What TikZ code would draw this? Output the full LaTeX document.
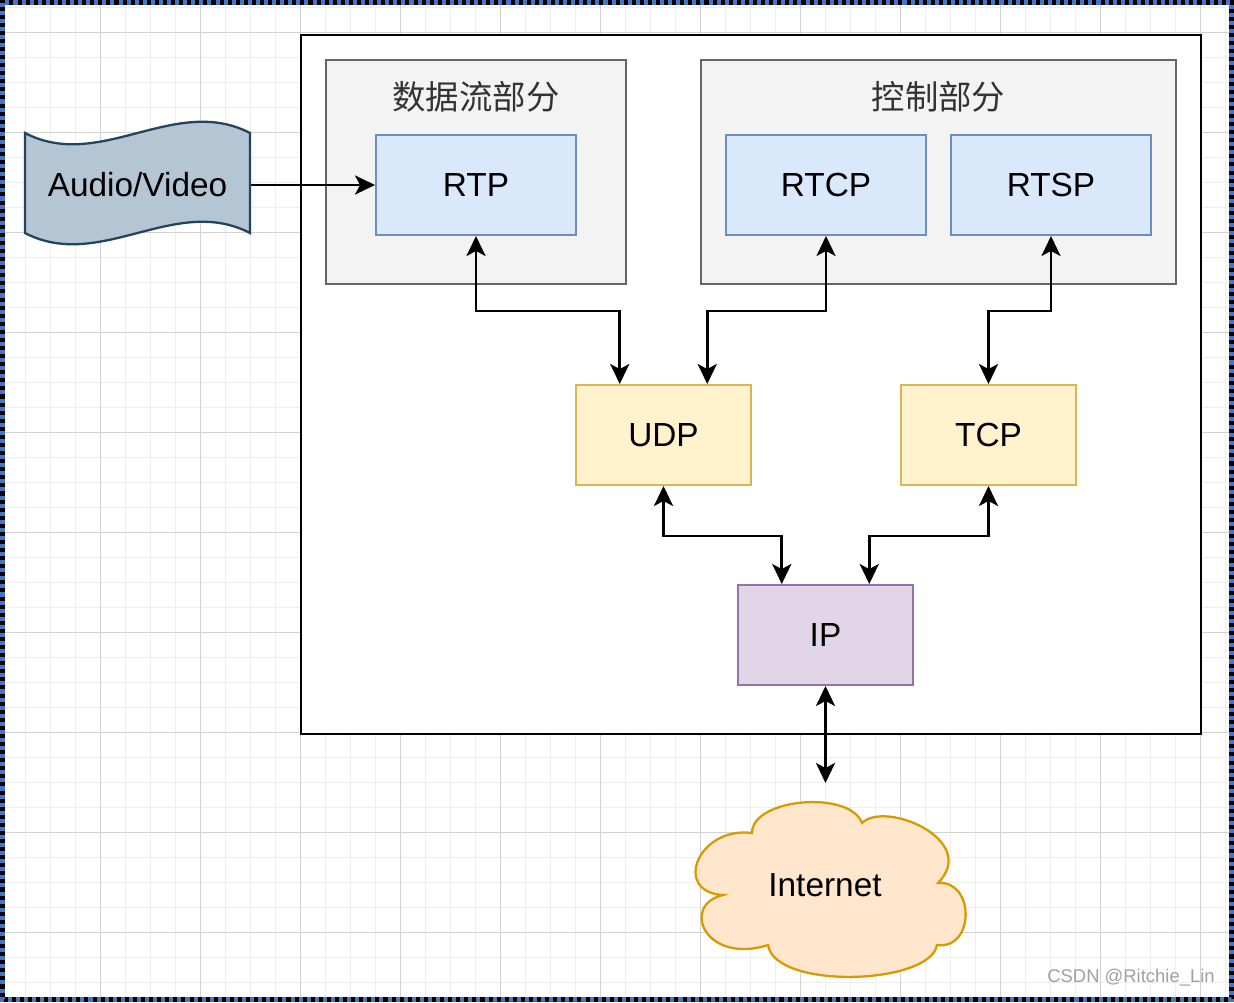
\documentclass[tikz,border=0pt]{standalone}
\usepackage{fontspec}
\setmainfont{Liberation Sans}
\newfontfamily\cjk{Noto Sans CJK SC}
\usetikzlibrary{%
  arrows.meta,%
  calc%
}
\definecolor{gridmin}{HTML}{EEEEEE}
\definecolor{gridmaj}{HTML}{D2D2D2}
\definecolor{frameblue}{HTML}{4A72C8}
\definecolor{grpfill}{HTML}{F3F3F3}
\definecolor{grpline}{HTML}{666666}
\definecolor{blufill}{HTML}{DAE8FC}
\definecolor{bluline}{HTML}{6C8EBF}
\definecolor{ylwfill}{HTML}{FFF2CC}
\definecolor{ylwline}{HTML}{D6B656}
\definecolor{prpfill}{HTML}{E1D5E7}
\definecolor{prpline}{HTML}{9673A6}
\definecolor{tapefill}{HTML}{B4C5D3}
\definecolor{tapeline}{HTML}{23445D}
\definecolor{cloudfill}{HTML}{FFE6CC}
\definecolor{cloudline}{HTML}{D79B00}
\definecolor{titlegray}{HTML}{333333}
\definecolor{markgray}{HTML}{A0A0A0}

\begin{document}
\begin{tikzpicture}
[x=0.02cm, y=-0.02cm, font=\fontsize{19}{22}\selectfont, line width=1.1pt,
grp/.style={rectangle, draw=grpline, fill=grpfill, inner sep=0pt, minimum height=4.48cm},
blu/.style={rectangle, draw=bluline, fill=blufill, inner sep=0pt, minimum width=4cm, minimum height=2cm},
ylw/.style={rectangle, draw=ylwline, fill=ylwfill, inner sep=0pt, minimum width=3.5cm, minimum height=2cm},
prp/.style={rectangle, draw=prpline, fill=prpfill, inner sep=0pt, minimum width=3.5cm, minimum height=2cm},
title/.style={font=\cjk\fontsize{19}{22}\selectfont, text=titlegray},
link/.style={{Stealth[length=0.40cm, width=0.38cm, inset=0.1cm]}-{Stealth[length=0.40cm, width=0.38cm, inset=0.1cm]}, line width=1.6pt},
flow/.style={-{Stealth[length=0.40cm, width=0.38cm, inset=0.1cm]}, line width=1.6pt}
]
\useasboundingbox (0,0) rectangle (1234,1002);

% background grid
\fill[white] (0,0) rectangle (1234,1002);
\foreach \gx in {0,25,...,1225} \draw[gridmin, line width=0.55pt] (\gx,0) -- (\gx,1002);
\foreach \gy in {7,32,...,1000} \draw[gridmin, line width=0.55pt] (0,\gy) -- (1234,\gy);
\foreach \gx in {0,100,...,1200} \draw[gridmaj, line width=0.55pt] (\gx,0) -- (\gx,1002);
\foreach \gy in {32,132,...,1000} \draw[gridmaj, line width=0.55pt] (0,\gy) -- (1234,\gy);

% frame
\draw[black, line width=2.9pt] (2.5,2.5) rectangle (1231.5,999.5);
\draw[frameblue, line width=2.9pt, dash pattern=on 2.3pt off 2.3pt] (2.5,2.5) rectangle (1231.5,999.5);

% outer box
\draw[fill=white, line width=1.5pt] (301,35) rectangle (1201,734);

\node[grp, minimum width=6cm] (data) at (476,172) {};
\node[grp, minimum width=9.5cm] (ctrl) at (938.5,172) {};
\node[title] (datat) at (476,97) {数据流部分};
\node[title] (ctrlt) at (938.5,97) {控制部分};

\node[blu] (rtp) at (476,185) {RTP};
\node[blu] (rtcp) at (826,185) {RTCP};
\node[blu] (rtsp) at (1051,185) {RTSP};

\node[ylw] (udp) at (663.5,435) {UDP};
\node[ylw] (tcp) at (988.5,435) {TCP};

\node[prp] (ip) at (825.5,635) {IP};

% audio/video tape
\filldraw[fill=tapefill, draw=tapeline, line width=1.3pt]
  (25,133) .. controls (100,172) and (175,94) .. (250,133)
  -- (250,233) .. controls (175,194) and (100,272) .. (25,233) -- cycle;
\node[inner sep=0pt, minimum width=4.5cm, minimum height=2cm] (av) at (137.5,185) {Audio/Video};

% internet cloud
\filldraw[fill=cloudfill, draw=cloudline, line width=1.3pt]
  (723,895) .. controls (672,892) and (698,826) .. (752,833)
  .. controls (752,798) and (850,790) .. (862,823)
  .. controls (885,800) and (980,840) .. (938,883)
  .. controls (975,880) and (975,950) .. (937,945)
  .. controls (930,985) and (775,990) .. (768,945)
  .. controls (705,965) and (680,905) .. (723,895) -- cycle;
\node (inet) at (825,885) {Internet};
\coordinate (netin) at (825.5,783);

\draw[flow] (av.east) -- (rtp.west);
\draw[link] (rtp.south) -- ++(0,75) -| ([xshift=-0.875cm]udp.north);
\draw[link] (rtcp.south) -- ++(0,75) -| ([xshift=0.875cm]udp.north);
\draw[link] (rtsp.south) -- ++(0,75) -| (tcp.north);
\draw[link] (udp.south) -- ++(0,50) -| ([xshift=-0.875cm]ip.north);
\draw[link] (tcp.south) -- ++(0,50) -| ([xshift=0.875cm]ip.north);
\draw[link] (ip.south) -- (netin);

\node[text=markgray, font=\fontsize{10.5}{12}\selectfont] (mark) at (1131,978) {CSDN @Ritchie\_Lin};
\end{tikzpicture}
\end{document}
